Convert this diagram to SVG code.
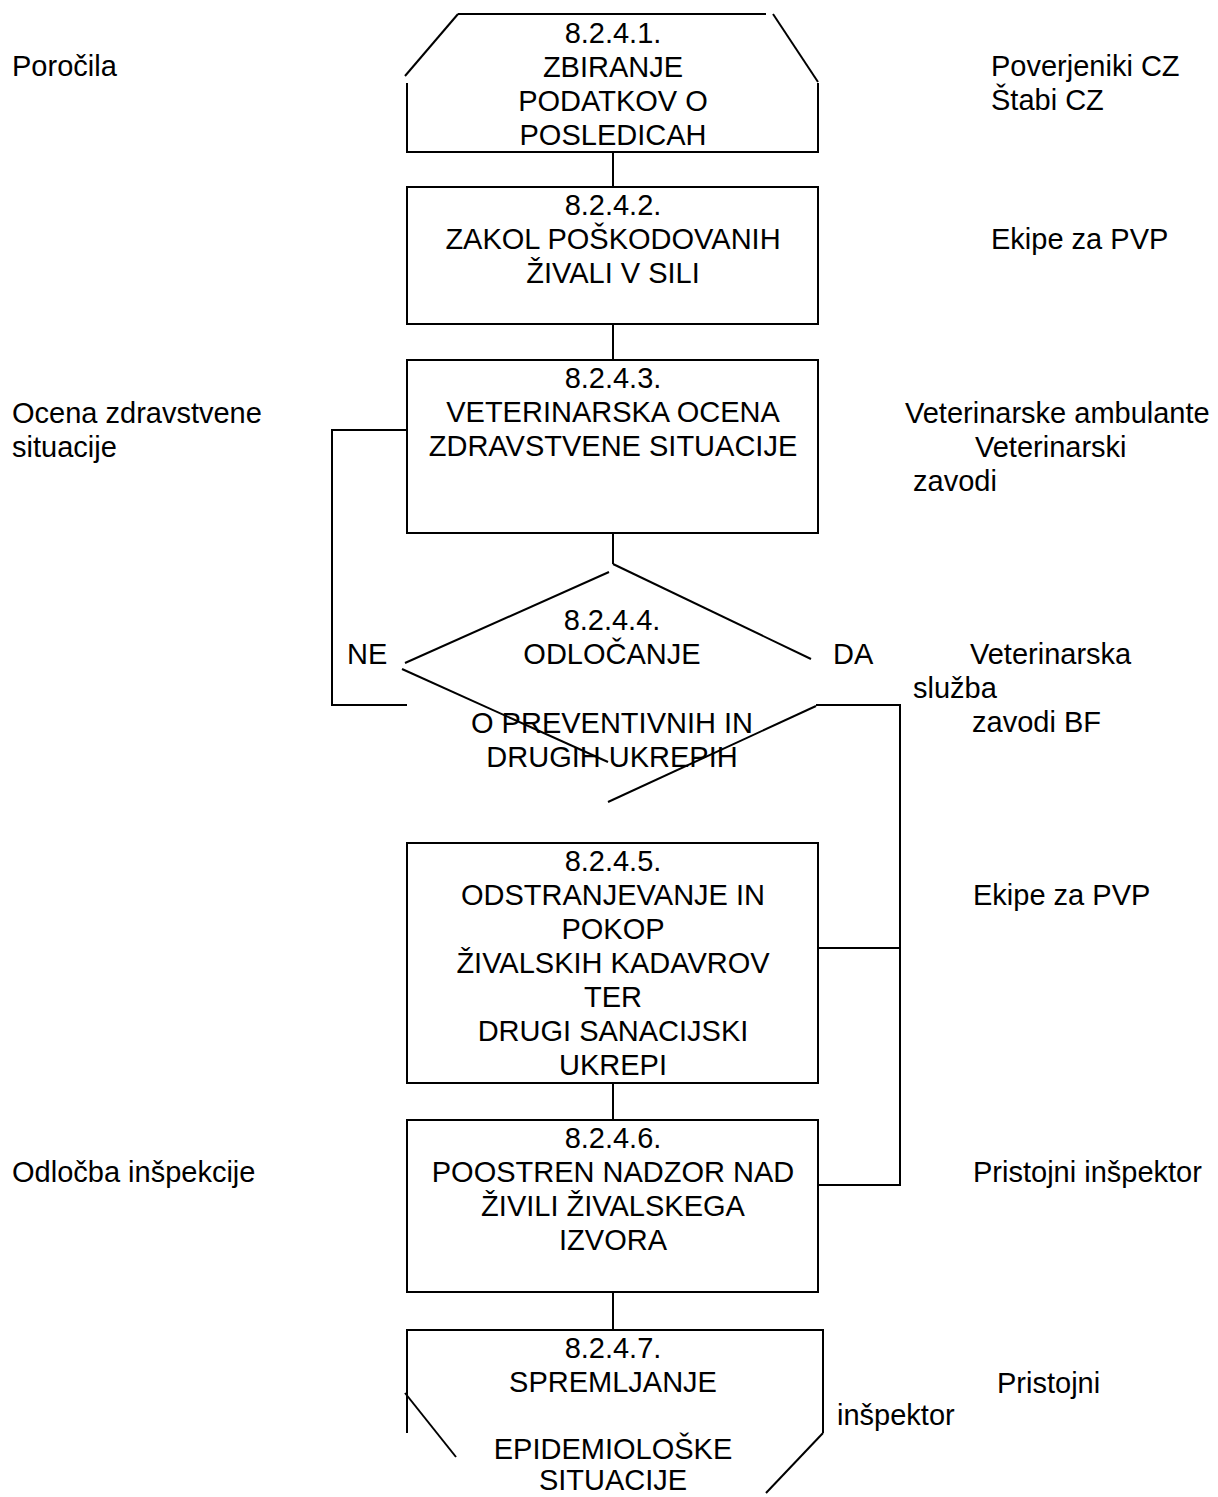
<svg xmlns="http://www.w3.org/2000/svg" width="1218" height="1497" viewBox="0 0 1218 1497">
<style>
  .t { font-family: "Liberation Sans", Arial, sans-serif; font-size: 29px; fill: #000; }
  .c { text-anchor: middle; }
  .s { fill: none; stroke: #000; stroke-width: 2; }
</style>
<rect x="0" y="0" width="1218" height="1497" fill="#fff"/>

<g id="connectors" class="s">
  <line x1="613" y1="152" x2="613" y2="187"/>
  <line x1="613" y1="324" x2="613" y2="360"/>
  <line x1="613" y1="533" x2="613" y2="564"/>
  <polyline points="407,430 332,430 332,705 407,705"/>
  <polyline points="816,705 900,705 900,1185 818,1185"/>
  <line x1="818" y1="948" x2="900" y2="948"/>
  <line x1="613" y1="1083" x2="613" y2="1120"/>
  <line x1="613" y1="1292" x2="613" y2="1330"/>
</g>

<g id="node1">
  <g class="s">
    <line x1="458" y1="14" x2="766" y2="14"/>
    <line x1="458" y1="14" x2="405" y2="76"/>
    <line x1="773" y1="14" x2="818" y2="82"/>
    <polyline points="407,83 407,152 818,152 818,83"/>
  </g>
  <text class="t c" x="613" y="43">8.2.4.1.</text>
  <text class="t c" x="613" y="77">ZBIRANJE</text>
  <text class="t c" x="613" y="111">PODATKOV O</text>
  <text class="t c" x="613" y="145">POSLEDICAH</text>
</g>

<g id="node2">
  <rect class="s" x="407" y="187" width="411" height="137"/>
  <text class="t c" x="613" y="215">8.2.4.2.</text>
  <text class="t c" x="613" y="249">ZAKOL POŠKODOVANIH</text>
  <text class="t c" x="613" y="283">ŽIVALI V SILI</text>
</g>

<g id="node3">
  <rect class="s" x="407" y="360" width="411" height="173"/>
  <text class="t c" x="613" y="388">8.2.4.3.</text>
  <text class="t c" x="613" y="422">VETERINARSKA OCENA</text>
  <text class="t c" x="613" y="456">ZDRAVSTVENE SITUACIJE</text>
</g>

<g id="node4">
  <g class="s">
    <line x1="613" y1="564" x2="811" y2="659"/>
    <line x1="609" y1="572" x2="405" y2="663"/>
    <line x1="402" y1="669" x2="608" y2="762"/>
    <line x1="816" y1="706" x2="608" y2="802"/>
  </g>
  <text class="t c" x="612" y="630">8.2.4.4.</text>
  <text class="t c" x="612" y="664">ODLOČANJE</text>
  <text class="t c" x="612" y="733">O PREVENTIVNIH IN</text>
  <text class="t c" x="612" y="767">DRUGIH UKREPIH</text>
  <text class="t" x="347" y="664">NE</text>
  <text class="t" x="833" y="664">DA</text>
</g>

<g id="node5">
  <rect class="s" x="407" y="843" width="411" height="240"/>
  <text class="t c" x="613" y="871">8.2.4.5.</text>
  <text class="t c" x="613" y="905">ODSTRANJEVANJE IN</text>
  <text class="t c" x="613" y="939">POKOP</text>
  <text class="t c" x="613" y="973">ŽIVALSKIH KADAVROV</text>
  <text class="t c" x="613" y="1007">TER</text>
  <text class="t c" x="613" y="1041">DRUGI SANACIJSKI</text>
  <text class="t c" x="613" y="1075">UKREPI</text>
</g>

<g id="node6">
  <rect class="s" x="407" y="1120" width="411" height="172"/>
  <text class="t c" x="613" y="1148">8.2.4.6.</text>
  <text class="t c" x="613" y="1182">POOSTREN NADZOR NAD</text>
  <text class="t c" x="613" y="1216">ŽIVILI ŽIVALSKEGA</text>
  <text class="t c" x="613" y="1250">IZVORA</text>
</g>

<g id="node7">
  <g class="s">
    <polyline points="407,1433 407,1330 823,1330 823,1433"/>
    <line x1="405" y1="1393" x2="456" y2="1457"/>
    <line x1="823" y1="1433" x2="766" y2="1493"/>
  </g>
  <text class="t c" x="613" y="1358">8.2.4.7.</text>
  <text class="t c" x="613" y="1392">SPREMLJANJE</text>
  <text class="t c" x="613" y="1459">EPIDEMIOLOŠKE</text>
  <text class="t c" x="613" y="1490">SITUACIJE</text>
</g>

<g id="labels-left">
  <text class="t" x="12" y="76">Poročila</text>
  <text class="t" x="12" y="423">Ocena zdravstvene</text>
  <text class="t" x="12" y="457">situacije</text>
  <text class="t" x="12" y="1182">Odločba inšpekcije</text>
</g>

<g id="labels-right">
  <text class="t" x="991" y="76">Poverjeniki CZ</text>
  <text class="t" x="991" y="110">Štabi CZ</text>
  <text class="t" x="991" y="249">Ekipe za PVP</text>
  <text class="t" x="905" y="423">Veterinarske ambulante</text>
  <text class="t" x="975" y="457">Veterinarski</text>
  <text class="t" x="913" y="491">zavodi</text>
  <text class="t" x="970" y="664">Veterinarska</text>
  <text class="t" x="913" y="698">služba</text>
  <text class="t" x="972" y="732">zavodi BF</text>
  <text class="t" x="973" y="905">Ekipe za PVP</text>
  <text class="t" x="973" y="1182">Pristojni inšpektor</text>
  <text class="t" x="997" y="1393">Pristojni</text>
  <text class="t" x="837" y="1425">inšpektor</text>
</g>
</svg>
